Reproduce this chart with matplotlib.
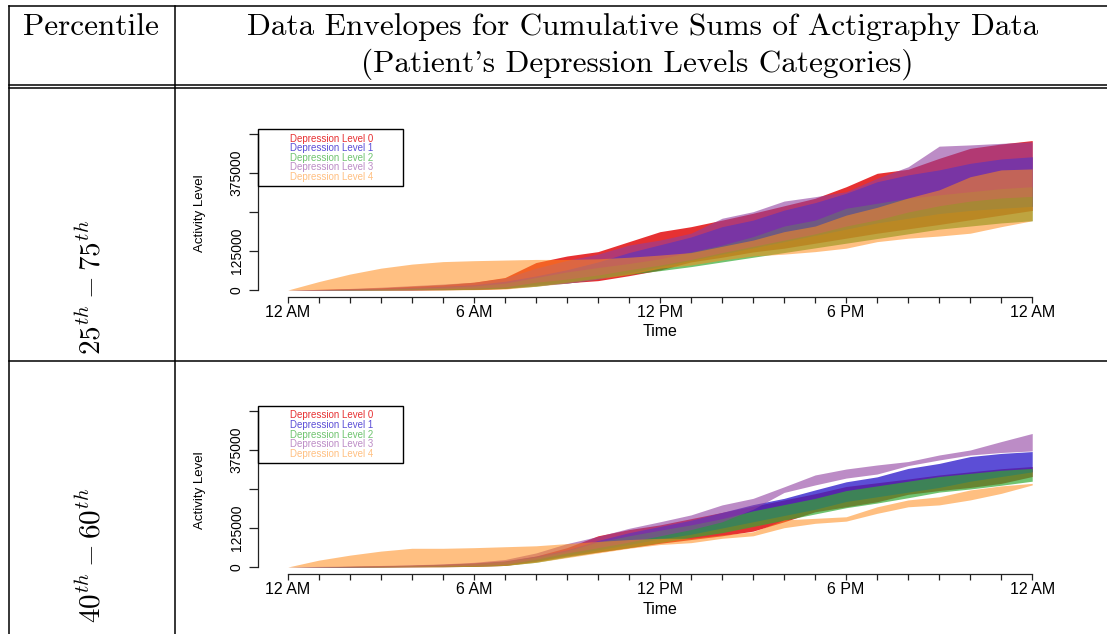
import numpy as np
import matplotlib.pyplot as plt
from matplotlib.lines import Line2D
from matplotlib.patches import Rectangle

plt.rcParams['mathtext.fontset'] = 'cm'

W, H = 1107, 634

# ---- data (cumulative activity, thousands), one value per hour 12 AM .. 12 AM
hours = np.arange(0, 25)

levels = ['Depression Level 0', 'Depression Level 1', 'Depression Level 2',
          'Depression Level 3', 'Depression Level 4']
fill_colors = ['#e41a1c', '#3322cc', '#33aa33', '#9040a0', '#ff8c1a']
fill_alpha = [0.9, 0.8, 0.7, 0.6, 0.55]

row_labels = [r'$25^{th} - 75^{th}$', r'$40^{th} - 60^{th}$']

# 25th - 75th percentile envelopes
q25_lower = [
    [0, 0, 0, 0, 0, 1, 2, 5, 19, 23, 30, 46, 64, 90, 105, 122, 134, 150, 166, 182, 196, 210, 225, 240, 255],
    [0, 0, 0, 1, 1, 2, 3, 6, 14, 22, 35, 55, 75, 95, 115, 135, 155, 175, 195, 215, 230, 245, 255, 262, 268],
    [0, 0, 0, 0, 1, 1, 2, 5, 12, 25, 38, 50, 62, 75, 90, 105, 120, 135, 150, 165, 180, 195, 205, 215, 222],
    [0, 0, 1, 2, 3, 4, 6, 10, 25, 35, 48, 65, 80, 98, 120, 140, 160, 180, 205, 225, 250, 270, 285, 295, 300],
    [0, 0, 0, 0, 0, 0, 1, 3, 12, 22, 35, 50, 70, 80, 96, 109, 115, 123, 134, 155, 166, 173, 182, 203, 222],
]
q75_upper = [
    [0, 2, 4, 7, 12, 17, 25, 40, 88, 109, 123, 155, 187, 203, 224, 246, 270, 294, 331, 374, 387, 422, 454, 468, 479],
    [0, 1, 3, 5, 8, 12, 17, 28, 45, 65, 90, 120, 145, 170, 203, 224, 256, 280, 310, 347, 369, 385, 406, 420, 427],
    [0, 1, 2, 4, 6, 9, 13, 22, 40, 58, 72, 85, 100, 122, 144, 171, 205, 224, 262, 278, 294, 305, 315, 325, 331],
    [0, 2, 5, 9, 14, 19, 25, 38, 70, 95, 115, 144, 160, 182, 230, 251, 285, 299, 315, 358, 395, 461, 465, 470, 475],
    [0, 27, 51, 70, 83, 91, 94, 96, 98, 98, 100, 105, 112, 120, 140, 160, 187, 205, 240, 265, 295, 321, 363, 385, 388],
]

# 40th - 60th percentile envelopes
q40_lower = [
    [0, 0, 0, 0, 1, 1, 2, 5, 18, 35, 48, 62, 76, 88, 100, 115, 145, 177, 193, 209, 233, 245, 255, 268, 290],
    [0, 0, 0, 1, 1, 2, 4, 8, 20, 38, 55, 72, 90, 105, 125, 145, 165, 185, 210, 225, 240, 255, 275, 290, 305],
    [0, 0, 0, 0, 1, 1, 2, 5, 15, 32, 48, 62, 78, 95, 110, 130, 150, 170, 190, 205, 222, 240, 250, 262, 275],
    [0, 0, 0, 1, 2, 3, 5, 9, 25, 45, 62, 80, 100, 120, 145, 185, 239, 263, 285, 298, 325, 343, 359, 367, 372],
    [0, 0, 0, 0, 0, 1, 2, 5, 15, 30, 45, 60, 72, 78, 92, 100, 126, 140, 147, 172, 193, 199, 215, 236, 263],
]
q60_upper = [
    [0, 1, 2, 3, 5, 8, 12, 18, 35, 62, 100, 120, 135, 155, 175, 195, 215, 235, 258, 270, 282, 295, 305, 315, 322],
    [0, 1, 2, 4, 6, 9, 13, 20, 35, 55, 85, 110, 130, 150, 175, 200, 220, 247, 273, 289, 316, 332, 354, 364, 370],
    [0, 1, 2, 3, 5, 7, 11, 18, 32, 52, 80, 100, 118, 135, 155, 180, 200, 220, 245, 260, 275, 290, 300, 310, 316],
    [0, 2, 3, 5, 7, 10, 15, 24, 45, 75, 98, 124, 145, 167, 199, 220, 257, 295, 314, 327, 338, 359, 375, 402, 428],
    [0, 22, 38, 51, 60, 60, 62, 65, 68, 75, 82, 88, 92, 92, 103, 113, 151, 156, 161, 193, 215, 225, 247, 260, 268],
]

hour_ticks = np.arange(0, 25)
hour_labels = ['12 AM', '6 AM', '12 PM', '6 PM', '12 AM']
y_ticks = [0, 125000, 250000, 375000, 500000]
y_labels = ['0', '125000', '', '375000', '']


def fx(x):
    return x / W


def fy(y):
    return 1 - y / H


fig = plt.figure(figsize=(W / 100, H / 100), dpi=100)

# table rules
def rule(x0, y0, x1, y1):
    fig.add_artist(Line2D([fx(x0), fx(x1)], [fy(y0), fy(y1)],
                          transform=fig.transFigure, color='black', lw=1.1))

rule(9, 6, W, 6)
rule(9, 85, W, 85)
rule(9, 88, W, 88)
rule(9, 361, W, 361)
rule(9, 6, 9, H)
rule(175, 6, 175, H)

fig.text(fx(91), fy(27), 'Percentile', family='cmr10', fontsize=22.5,
         ha='center', va='center')
fig.text(fx(643), fy(27), 'Data Envelopes for Cumulative Sums of Actigraphy Data',
         family='cmr10', fontsize=22.5, ha='center', va='center')
fig.text(fx(637), fy(64), "(Patient's Depression Levels Categories)",
         family='cmr10', fontsize=22.5, ha='center', va='center')

panels = [(q25_lower, q75_upper), (q40_lower, q60_upper)]

for i, (lower, upper) in enumerate(panels):
    off = 277 * i
    top, bottom = 129 + off, 297 + off
    ax = fig.add_axes([fx(258), fy(bottom), (1062 - 258) / W, (bottom - top) / H])

    for lo, hi, c, a in zip(lower, upper, fill_colors, fill_alpha):
        ax.fill_between(hours, np.array(lo) * 1000, np.array(hi) * 1000,
                        color=c, alpha=a, linewidth=0)

    ax.set_xlim(-0.96, 24.96)
    ax.set_ylim(-22400, 516000)
    for s in ['top', 'right']:
        ax.spines[s].set_visible(False)
    ax.spines['left'].set_bounds(0, 500000)
    ax.spines['bottom'].set_bounds(0, 24)
    for s in ['left', 'bottom']:
        ax.spines[s].set_linewidth(0.9)
        ax.spines[s].set_color('#222222')

    ax.set_xticks(hour_ticks)
    ax.set_xticklabels([hour_labels[h // 6] if h % 6 == 0 else '' for h in hour_ticks],
                       family='Liberation Sans', fontsize=11.5)
    ax.tick_params(axis='x', length=4.3, width=0.9, pad=1.5, color='#222222')
    ax.set_yticks(y_ticks)
    ax.set_yticklabels(y_labels, family='Liberation Sans', fontsize=10,
                       rotation=90, va='center')
    ax.tick_params(axis='y', length=6.3, width=0.9, pad=4, color='#222222')

    fig.text(fx(200), fy(213 + off), 'Activity Level', family='Liberation Sans',
             fontsize=9.5, rotation=90, ha='center', va='center')
    fig.text(fx(660), fy(332 + off), 'Time', family='Liberation Sans',
             fontsize=11.5, ha='center', va='center')

    # legend box, coloured text only
    fig.add_artist(Rectangle((fx(258), fy(186 + off)), 145 / W, 57 / H,
                             transform=fig.transFigure, fill=False,
                             ec='black', lw=1))
    for k, (name, c, a) in enumerate(zip(levels, fill_colors, fill_alpha)):
        fig.text(fx(290), fy(138.5 + 9.55 * k + off), name, family='Liberation Sans',
                 fontsize=7, color=c, alpha=a, ha='left', va='center')

    fig.text(fx(92), fy(287 + 268 * i), row_labels[i], fontsize=21,
             rotation=90, ha='center', va='center')

fig.savefig('out.png', dpi=100)
